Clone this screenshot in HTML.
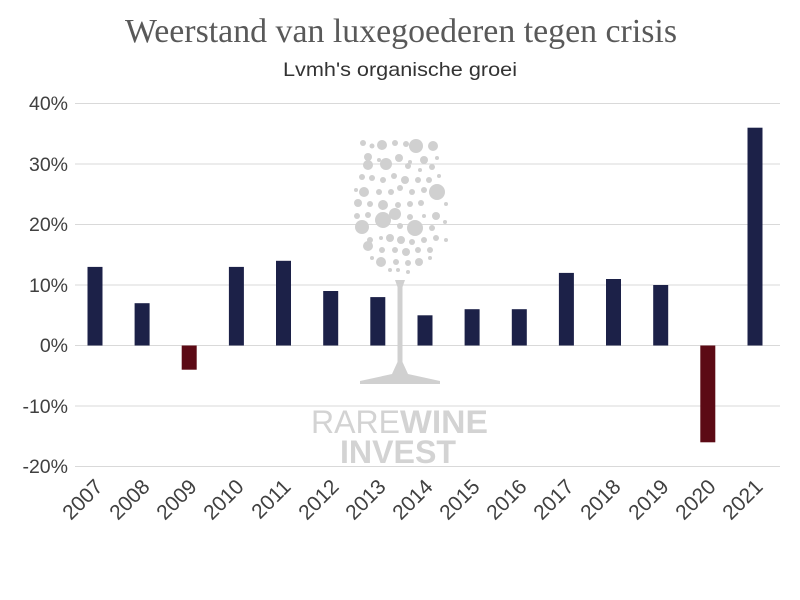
<!DOCTYPE html>
<html><head><meta charset="utf-8"><style>body{margin:0;background:#fff}svg{display:block}</style></head><body>
<svg width="800" height="600" xmlns="http://www.w3.org/2000/svg">
<rect width="800" height="600" fill="#fff"/>
<text x="401" y="42" text-anchor="middle" font-family="Liberation Serif, serif" font-size="34" fill="#595959" textLength="552" lengthAdjust="spacingAndGlyphs">Weerstand van luxegoederen tegen crisis</text>
<text x="400" y="76" text-anchor="middle" font-family="Liberation Sans, sans-serif" font-size="19.5" fill="#333" textLength="234" lengthAdjust="spacingAndGlyphs">Lvmh's organische groei</text>
<g stroke="#d9d9d9" stroke-width="1">
<line x1="75" x2="780" y1="103.5" y2="103.5"/><line x1="75" x2="780" y1="164" y2="164"/><line x1="75" x2="780" y1="224.5" y2="224.5"/><line x1="75" x2="780" y1="285" y2="285"/><line x1="75" x2="780" y1="345.5" y2="345.5"/><line x1="75" x2="780" y1="406" y2="406"/><line x1="75" x2="780" y1="466.5" y2="466.5"/>
</g>
<g font-family="Liberation Sans, sans-serif" font-size="19.5" fill="#404040" text-anchor="end">
<text x="68" y="110">40%</text><text x="68" y="171">30%</text><text x="68" y="231">20%</text><text x="68" y="292">10%</text><text x="68" y="352">0%</text><text x="68" y="413">-10%</text><text x="68" y="473">-20%</text>
</g>
<g fill="#d0d0d0">
<circle cx="363" cy="143" r="3"/><circle cx="372" cy="146" r="2.5"/><circle cx="382" cy="145" r="5"/><circle cx="395" cy="143" r="3"/><circle cx="406" cy="144" r="3"/><circle cx="416" cy="146" r="7"/><circle cx="433" cy="146" r="5"/>
<circle cx="368" cy="157" r="4"/><circle cx="379" cy="160" r="2"/><circle cx="388" cy="163" r="3"/><circle cx="399" cy="158" r="4"/><circle cx="410" cy="162" r="2"/><circle cx="424" cy="160" r="4"/><circle cx="437" cy="158" r="2"/>
<circle cx="368" cy="165" r="5"/><circle cx="386" cy="164" r="6"/><circle cx="408" cy="166" r="3"/><circle cx="420" cy="170" r="2"/><circle cx="432" cy="167" r="3"/><circle cx="439" cy="176" r="2"/>
<circle cx="362" cy="177" r="3"/><circle cx="372" cy="178" r="3"/><circle cx="383" cy="180" r="3"/><circle cx="394" cy="176" r="3"/><circle cx="405" cy="180" r="4"/><circle cx="418" cy="180" r="3"/><circle cx="429" cy="180" r="3"/>
<circle cx="356" cy="190" r="2"/><circle cx="364" cy="192" r="5"/><circle cx="379" cy="192" r="3"/><circle cx="391" cy="192" r="3"/><circle cx="400" cy="188" r="3"/><circle cx="412" cy="192" r="3"/><circle cx="424" cy="190" r="3"/><circle cx="437" cy="192" r="8"/>
<circle cx="358" cy="203" r="4"/><circle cx="370" cy="204" r="3"/><circle cx="383" cy="205" r="5"/><circle cx="398" cy="205" r="3"/><circle cx="410" cy="204" r="3"/><circle cx="421" cy="203" r="3"/><circle cx="446" cy="204" r="2"/>
<circle cx="357" cy="216" r="3"/><circle cx="368" cy="215" r="3"/><circle cx="379" cy="218" r="2"/><circle cx="395" cy="214" r="6"/><circle cx="410" cy="217" r="3"/><circle cx="424" cy="216" r="2"/><circle cx="436" cy="216" r="4"/>
<circle cx="362" cy="227" r="7"/><circle cx="383" cy="220" r="8"/><circle cx="400" cy="226" r="3"/><circle cx="415" cy="228" r="8"/><circle cx="432" cy="228" r="3"/><circle cx="445" cy="222" r="2"/>
<circle cx="370" cy="240" r="3"/><circle cx="381" cy="238" r="2"/><circle cx="390" cy="238" r="4"/><circle cx="401" cy="240" r="4"/><circle cx="412" cy="242" r="3"/><circle cx="424" cy="240" r="3"/><circle cx="436" cy="238" r="3"/><circle cx="446" cy="240" r="2"/>
<circle cx="368" cy="246" r="5"/><circle cx="382" cy="250" r="3"/><circle cx="395" cy="250" r="3"/><circle cx="406" cy="252" r="4"/><circle cx="418" cy="250" r="3"/><circle cx="430" cy="250" r="3"/>
<circle cx="372" cy="258" r="2"/><circle cx="381" cy="262" r="5"/><circle cx="396" cy="262" r="3"/><circle cx="408" cy="263" r="3"/><circle cx="419" cy="262" r="4"/><circle cx="430" cy="258" r="2"/>
<circle cx="390" cy="270" r="2"/><circle cx="398" cy="270" r="2"/><circle cx="408" cy="272" r="2"/>
<polygon points="395,280 405,280 402.5,287 402.5,362 408,374 440,381 440,384 360,384 360,381 392,374 397.5,362 397.5,287"/>
</g>
<g font-family="Liberation Sans, sans-serif" font-size="32" fill="#d3d3d3">
<text x="311" y="433" textLength="89" lengthAdjust="spacingAndGlyphs">RARE</text>
<text x="400" y="433" font-weight="bold" textLength="88" lengthAdjust="spacingAndGlyphs">WINE</text>
<text x="340" y="463" font-weight="bold" textLength="116" lengthAdjust="spacingAndGlyphs">INVEST</text>
</g>
<g fill="#1c2148">
<rect x="87.5" y="266.9" width="15" height="78.6"/>
<rect x="134.6" y="303.2" width="15" height="42.3"/>
<rect x="228.9" y="266.9" width="15" height="78.6"/>
<rect x="276" y="260.8" width="15" height="84.7"/>
<rect x="323.2" y="291" width="15" height="54.5"/>
<rect x="370.3" y="297.1" width="15" height="48.4"/>
<rect x="417.5" y="315.3" width="15" height="30.2"/>
<rect x="464.6" y="309.2" width="15" height="36.3"/>
<rect x="511.8" y="309.2" width="15" height="36.3"/>
<rect x="558.9" y="272.9" width="15" height="72.6"/>
<rect x="606" y="279" width="15" height="66.5"/>
<rect x="653.2" y="285" width="15" height="60.5"/>
<rect x="747.5" y="127.7" width="15" height="217.8"/>
</g>
<g fill="#5c0a15">
<rect x="181.7" y="345.5" width="15" height="24.2"/>
<rect x="700.3" y="345.5" width="15" height="96.8"/>
</g>
<g font-family="Liberation Sans, sans-serif" font-size="21" fill="#404040" text-anchor="end">
<text transform="translate(104,488) rotate(-45)">2007</text>
<text transform="translate(151,488) rotate(-45)">2008</text>
<text transform="translate(198,488) rotate(-45)">2009</text>
<text transform="translate(245,488) rotate(-45)">2010</text>
<text transform="translate(292,488) rotate(-45)">2011</text>
<text transform="translate(340,488) rotate(-45)">2012</text>
<text transform="translate(387,488) rotate(-45)">2013</text>
<text transform="translate(434,488) rotate(-45)">2014</text>
<text transform="translate(481,488) rotate(-45)">2015</text>
<text transform="translate(528,488) rotate(-45)">2016</text>
<text transform="translate(575,488) rotate(-45)">2017</text>
<text transform="translate(622,488) rotate(-45)">2018</text>
<text transform="translate(670,488) rotate(-45)">2019</text>
<text transform="translate(717,488) rotate(-45)">2020</text>
<text transform="translate(764,488) rotate(-45)">2021</text>
</g>
</svg>
</body></html>
